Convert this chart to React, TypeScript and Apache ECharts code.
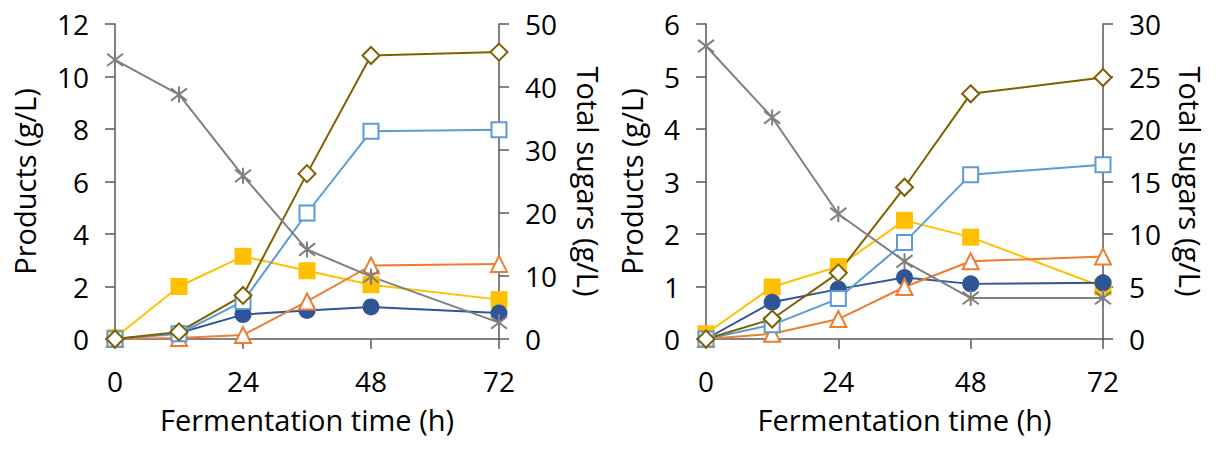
import React, { useEffect, useRef } from "react";
import * as echarts from "echarts";

const times = [0, 12, 24, 36, 48, 72];

// Left panel
const sugarsA = [44.3, 38.8, 25.9, 14.2, 9.9, 2.6];
const diamondA = [0, 0.27, 1.66, 6.3, 10.8, 10.93];
const openSquareA = [0, 0.2, 1.43, 4.8, 7.91, 7.97];
const filledSquareA = [0.05, 2.0, 3.15, 2.6, 2.07, 1.5];
const triangleA = [0, 0.04, 0.15, 1.43, 2.8, 2.86];
const circleA = [0, 0.23, 0.93, 1.09, 1.22, 0.99];

// Right panel
const sugarsB = [27.9, 21.1, 11.9, 7.4, 3.9, 3.9];
const diamondB = [0, 0.38, 1.26, 2.89, 4.67, 4.98];
const openSquareB = [0, 0.27, 0.77, 1.84, 3.13, 3.32];
const filledSquareB = [0.1, 0.99, 1.38, 2.26, 1.94, 0.99];
const triangleB = [0, 0.1, 0.38, 0.99, 1.48, 1.57];
const circleB = [0, 0.7, 0.95, 1.17, 1.05, 1.07];

const xTitle = "Fermentation time (h)";
const yLeftTitle = "Products (g/L)";
const yRightTitle = "Total sugars (g/L)";

const FONT = "Open Sans";
const AXIS_COLOR = "#595959";
const STAR = "path://M-1,-1L1,1M-1,1L1,-1M0,-1.3L0,1.3";

const pair = (ys: number[]) => times.map((t, i) => [t, ys[i]]);

function makeSeries(
  xi: number,
  yl: number,
  yr: number,
  sug: number[],
  dia: number[],
  osq: number[],
  fsq: number[],
  tri: number[],
  cir: number[]
) {
  const base = { type: "line", xAxisIndex: xi, showSymbol: true };
  return [
    {
      ...base,
      yAxisIndex: yl,
      data: pair(fsq),
      symbol: "rect",
      symbolSize: 17,
      itemStyle: { color: "#FFC000" },
      lineStyle: { width: 2, color: "#FFC000" },
    },
    {
      ...base,
      yAxisIndex: yl,
      data: pair(cir),
      symbol: "circle",
      symbolSize: 17,
      itemStyle: { color: "#2F5597" },
      lineStyle: { width: 2, color: "#2F5597" },
    },
    {
      ...base,
      yAxisIndex: yl,
      data: pair(tri),
      symbol: "triangle",
      symbolSize: 16,
      itemStyle: { color: "#ffffff", borderColor: "#ED7D31", borderWidth: 2 },
      lineStyle: { width: 2, color: "#ED7D31" },
    },
    {
      ...base,
      yAxisIndex: yl,
      data: pair(osq),
      symbol: "rect",
      symbolSize: 15,
      itemStyle: { color: "#ffffff", borderColor: "#5B9BD5", borderWidth: 2 },
      lineStyle: { width: 2, color: "#5B9BD5" },
    },
    {
      ...base,
      yAxisIndex: yl,
      data: pair(dia),
      symbol: "diamond",
      symbolSize: 17,
      itemStyle: { color: "#ffffff", borderColor: "#7F6000", borderWidth: 2 },
      lineStyle: { width: 2, color: "#7F6000" },
    },
    {
      ...base,
      yAxisIndex: yr,
      data: pair(sug),
      symbol: STAR,
      symbolSize: 16,
      itemStyle: { color: "none", borderColor: "#7F7F7F", borderWidth: 2 },
      lineStyle: { width: 2, color: "#7F7F7F" },
    },
  ];
}

function xAxis(gi: number) {
  return {
    type: "value",
    gridIndex: gi,
    min: 0,
    max: 72,
    interval: 24,
    name: xTitle,
    nameLocation: "middle",
    nameGap: 66,
    nameTextStyle: { fontFamily: FONT, fontSize: 29, color: "#000" },
    axisLine: { show: true, onZero: false, lineStyle: { color: AXIS_COLOR, width: 1.5 } },
    axisTick: { show: true, length: 10, lineStyle: { color: AXIS_COLOR, width: 1.5 } },
    axisLabel: { fontFamily: FONT, fontSize: 28, color: "#000", margin: 28 },
    splitLine: { show: false },
  };
}

function yAxis(gi: number, pos: string, max: number, interval: number, gap: number, isRight: boolean) {
  return {
    type: "value",
    gridIndex: gi,
    position: pos,
    min: 0,
    max,
    interval,
    name: isRight ? yRightTitle : yLeftTitle,
    nameLocation: "middle",
    nameRotate: isRight ? -90 : 90,
    nameGap: gap,
    nameTextStyle: { fontFamily: FONT, fontSize: 29, color: "#000" },
    axisLine: { show: true, lineStyle: { color: AXIS_COLOR, width: 1.5 } },
    axisTick: { show: true, length: 10, lineStyle: { color: AXIS_COLOR, width: 1.5 } },
    axisLabel: { fontFamily: FONT, fontSize: 28, color: "#000", margin: 26 },
    splitLine: { show: false },
  };
}

export default function App() {
  const ref = useRef<HTMLDivElement>(null);
  useEffect(() => {
    if (!ref.current) return;
    const chart = echarts.init(ref.current, undefined, { renderer: "svg" });
    chart.setOption({
      animation: false,
      backgroundColor: "#ffffff",
      grid: [
        { left: 115, right: 719, top: 24, bottom: 111 },
        { left: 706, right: 115, top: 24, bottom: 111 },
      ],
      xAxis: [xAxis(0), xAxis(1)],
      yAxis: [
        yAxis(0, "left", 12, 2, 76, false),
        yAxis(0, "right", 50, 10, 75, true),
        yAxis(1, "left", 6, 1, 60, false),
        yAxis(1, "right", 73, 5, 73, true),
      ].map((a, i) => (i === 3 ? { ...a, max: 30, interval: 5 } : a)),
      series: [
        ...makeSeries(0, 0, 1, sugarsA, diamondA, openSquareA, filledSquareA, triangleA, circleA),
        ...makeSeries(1, 2, 3, sugarsB, diamondB, openSquareB, filledSquareB, triangleB, circleB),
      ],
    });
    return () => chart.dispose();
  }, []);
  return (
    <div
      ref={ref}
      style={{ position: "fixed", left: 0, top: 0, width: 1218, height: 450, background: "#fff" }}
    />
  );
}
